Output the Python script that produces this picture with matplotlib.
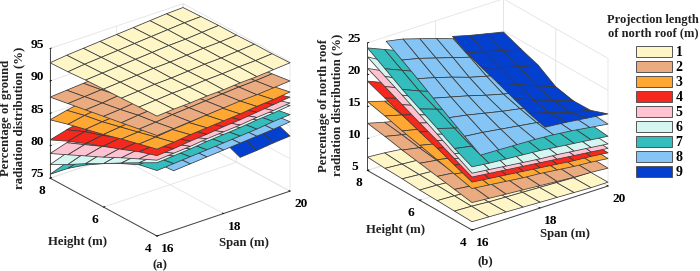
import numpy as np
import matplotlib
matplotlib.use("Agg")
import matplotlib.pyplot as plt
from matplotlib.patches import Patch
from mpl_toolkits.mplot3d import proj3d

plt.rcParams["font.family"] = "Liberation Serif"
plt.rcParams["font.weight"] = "bold"

heights = [4, 4.67, 5.33, 6, 6.67, 7.33, 8]
spans_full = [16, 16.5, 17, 17.5, 18, 18.5, 19, 19.5, 20]
spans_8 = spans_full[1:]
spans_9 = spans_full[5:]
start_8b = [16.25, 16.3, 16.35, 16.4, 16.45, 16.5, 16.55]
start_9b = [18.15, 18.2, 18.25, 18.3, 18.35, 18.4, 18.5]
legend_labels = ["1", "2", "3", "4", "5", "6", "7", "8", "9"]
colors = ["#FFF6C8", "#EBAB80", "#FFA733", "#F5281E", "#FFC2D0",
          "#D5F5F0", "#33BDBD", "#85C5F5", "#0440D0"]

# Panel (a): percentage of ground radiation; rows = heights, columns = spans
a1 = [[93.5,93.7,93.8,94.0,94.1,94.3,94.4,94.6,94.8],
      [93.4,93.6,93.8,93.9,94.1,94.2,94.4,94.5,94.7],
      [93.3,93.5,93.7,93.8,94.0,94.2,94.3,94.5,94.7],
      [93.2,93.4,93.6,93.8,93.9,94.1,94.3,94.4,94.6],
      [93.1,93.3,93.5,93.7,93.9,94.1,94.2,94.4,94.6],
      [92.9,93.2,93.4,93.6,93.8,94.0,94.2,94.4,94.5],
      [92.8,93.1,93.3,93.5,93.7,93.9,94.1,94.3,94.4]]
a2 = [[90.5,90.7,90.9,91.1,91.3,91.5,91.6,91.8,92.0],
      [90.0,90.2,90.5,90.7,90.9,91.1,91.3,91.4,91.6],
      [89.5,89.8,90.0,90.3,90.5,90.7,90.9,91.1,91.3],
      [89.0,89.2,89.5,89.8,90.0,90.3,90.5,90.7,90.9],
      [88.5,88.7,89.0,89.3,89.5,89.8,90.0,90.3,90.5],
      [88.0,88.2,88.4,88.7,89.0,89.3,89.6,89.8,90.0],
      [87.5,87.7,87.9,88.1,88.4,88.7,89.0,89.2,89.5]]
a3 = [[88.4,88.6,88.9,89.1,89.3,89.5,89.8,90.0,90.3],
      [87.7,87.9,88.2,88.4,88.7,88.9,89.2,89.4,89.7],
      [87.0,87.2,87.5,87.7,88.0,88.3,88.5,88.8,89.1],
      [86.2,86.5,86.8,87.0,87.3,87.6,87.9,88.2,88.5],
      [85.5,85.8,86.0,86.3,86.6,86.9,87.2,87.5,87.8],
      [84.8,85.3,85.7,86.0,86.3,86.6,86.8,87.0,87.2],
      [84.0,84.6,85.1,85.5,85.8,86.1,86.3,86.5,86.6]]
a4 = [[87.4,87.6,87.9,88.1,88.4,88.6,88.9,89.2,89.5],
      [86.5,86.7,87.0,87.3,87.5,87.8,88.0,88.3,88.6],
      [85.4,85.7,86.0,86.3,86.6,86.9,87.2,87.5,87.8],
      [84.4,84.8,85.1,85.4,85.7,86.0,86.4,86.7,87.0],
      [83.3,83.7,84.1,84.5,84.8,85.2,85.5,85.9,86.2],
      [82.2,82.8,83.3,83.7,84.1,84.4,84.7,85.0,85.4],
      [80.9,81.6,82.2,82.7,83.1,83.5,83.9,84.2,84.6]]
a5 = [[86.7,86.9,87.1,87.4,87.6,87.8,88.1,88.3,88.6],
      [85.4,85.7,86.0,86.2,86.5,86.8,87.1,87.4,87.7],
      [84.1,84.5,84.8,85.1,85.4,85.8,86.1,86.4,86.7],
      [82.7,83.2,83.6,84.0,84.4,84.7,85.1,85.4,85.8],
      [81.4,82.0,82.5,83.0,83.4,83.8,84.2,84.5,84.9],
      [80.1,80.8,81.4,81.9,82.4,82.8,83.2,83.6,84.0],
      [78.8,79.6,80.3,80.9,81.4,81.9,82.3,82.7,83.1]]
a6 = [[86.3,86.5,86.7,87.0,87.2,87.4,87.7,87.9,88.2],
      [84.8,85.1,85.5,85.8,86.1,86.4,86.7,87.0,87.3],
      [83.3,83.7,84.2,84.6,85.0,85.3,85.6,86.0,86.3],
      [81.7,82.3,82.8,83.3,83.8,84.2,84.6,84.9,85.3],
      [80.2,80.9,81.6,82.2,82.7,83.1,83.5,83.9,84.3],
      [78.6,79.5,80.3,80.9,81.5,82.0,82.5,82.9,83.3],
      [77.1,78.0,78.9,79.7,80.3,80.9,81.4,81.9,82.3]]
a7 = [[85.1,85.3,85.5,85.7,85.9,86.1,86.3,86.6,86.8],
      [84.5,84.8,85.0,85.2,85.4,85.6,85.9,86.1,86.3],
      [83.2,83.6,83.9,84.2,84.5,84.8,85.1,85.4,85.6],
      [81.7,82.2,82.6,83.0,83.4,83.7,84.1,84.4,84.7],
      [80.0,80.6,81.1,81.6,82.0,82.4,82.8,83.2,83.5],
      [78.0,78.7,79.3,79.9,80.4,80.9,81.3,81.7,82.1],
      [75.6,76.5,77.3,78.0,78.6,79.2,79.7,80.2,80.6]]
a8 = [[84.2,84.4,84.6,84.8,85.0,85.2,85.4,85.7],
      [84.0,84.2,84.4,84.6,84.8,85.0,85.2,85.4],
      [83.2,83.5,83.7,84.0,84.2,84.5,84.7,85.0],
      [81.8,82.2,82.5,82.9,83.2,83.5,83.8,84.1],
      [80.3,80.7,81.1,81.5,81.9,82.2,82.6,82.9],
      [78.5,79.0,79.5,80.0,80.4,80.8,81.2,81.6],
      [76.8,77.4,78.0,78.5,79.0,79.5,79.9,80.3]]
a9 = [[82.8,83.0,83.3,83.5],
      [84.0,84.2,84.4,84.6],
      [83.5,83.7,83.9,84.1],
      [82.5,82.8,83.0,83.2],
      [81.2,81.5,81.8,82.0],
      [79.8,80.1,80.4,80.6],
      [78.3,78.6,78.9,79.1]]

# Panel (b): percentage of north roof radiation
b1 = [[6.3,6.2,6.1,6.0,5.9,5.8,5.7,5.6,5.6],
      [6.4,6.3,6.1,6.0,5.9,5.8,5.7,5.6,5.6],
      [6.5,6.4,6.2,6.1,5.9,5.8,5.7,5.6,5.5],
      [6.6,6.5,6.3,6.1,6.0,5.8,5.7,5.6,5.5],
      [6.8,6.6,6.4,6.2,6.0,5.9,5.7,5.6,5.5],
      [6.9,6.7,6.5,6.3,6.1,5.9,5.7,5.6,5.5],
      [7.1,6.9,6.6,6.4,6.2,6.0,5.8,5.6,5.5]]
b2 = [[9.3,9.1,8.9,8.7,8.5,8.3,8.1,8.0,7.8],
      [9.8,9.5,9.2,9.0,8.7,8.5,8.3,8.1,7.9],
      [10.3,10.0,9.6,9.3,9.0,8.7,8.4,8.2,8.0],
      [10.8,10.4,10.0,9.6,9.2,8.9,8.6,8.3,8.1],
      [11.3,10.8,10.4,9.9,9.5,9.1,8.7,8.4,8.2],
      [11.9,11.3,10.8,10.3,9.8,9.3,8.9,8.5,8.3],
      [12.4,11.7,11.1,10.5,10.0,9.5,9.0,8.7,8.4]]
b3 = [[11.5,11.2,10.9,10.6,10.4,10.1,9.8,9.6,9.3],
      [12.2,11.8,11.4,11.1,10.7,10.4,10.1,9.8,9.5],
      [12.9,12.4,12.0,11.5,11.1,10.7,10.3,10.0,9.7],
      [13.6,13.0,12.5,12.0,11.5,11.0,10.6,10.2,9.8],
      [14.3,13.7,13.1,12.5,11.9,11.3,10.8,10.4,10.0],
      [15.1,14.4,13.7,13.0,12.3,11.7,11.1,10.6,10.2],
      [15.8,15.0,14.2,13.4,12.7,12.0,11.4,10.8,10.4]]
b4 = [[12.5,12.2,11.9,11.6,11.3,11.0,10.7,10.5,10.2],
      [13.6,13.1,12.7,12.3,11.9,11.5,11.1,10.8,10.4],
      [14.7,14.1,13.5,13.0,12.4,11.9,11.5,11.0,10.6],
      [15.7,15.0,14.3,13.6,13.0,12.4,11.8,11.3,10.8],
      [16.8,16.0,15.2,14.4,13.6,12.9,12.2,11.6,11.0],
      [17.9,17.0,16.0,15.1,14.2,13.4,12.6,11.9,11.3],
      [19.0,17.9,16.8,15.8,14.8,13.9,13.0,12.2,11.5]]
b5 = [[13.3,13.0,12.7,12.4,12.1,11.8,11.5,11.2,10.9],
      [14.6,14.1,13.6,13.2,12.7,12.3,11.9,11.5,11.1],
      [15.9,15.2,14.6,14.0,13.4,12.8,12.3,11.8,11.3],
      [17.1,16.3,15.5,14.8,14.0,13.3,12.7,12.1,11.5],
      [18.4,17.4,16.5,15.6,14.7,13.9,13.1,12.4,11.8],
      [19.7,18.6,17.5,16.4,15.4,14.4,13.5,12.7,12.0],
      [21.0,19.7,18.4,17.2,16.0,14.9,13.9,13.0,12.3]]
b6 = [[13.9,13.6,13.3,13.0,12.7,12.5,12.2,11.9,11.6],
      [15.4,14.8,14.3,13.9,13.4,13.0,12.6,12.2,11.8],
      [16.9,16.1,15.4,14.8,14.1,13.5,13.0,12.5,12.0],
      [18.4,17.4,16.5,15.7,14.8,14.1,13.4,12.8,12.2],
      [19.9,18.7,17.6,16.6,15.6,14.7,13.9,13.1,12.4],
      [21.3,20.0,18.7,17.5,16.4,15.3,14.3,13.4,12.7],
      [22.8,21.3,19.8,18.4,17.1,15.9,14.8,13.8,13.0]]
b7 = [[14.9,14.6,14.4,14.2,14.0,13.7,13.4,13.1,12.8],
      [16.2,15.7,15.3,14.9,14.6,14.2,13.8,13.4,13.1],
      [17.8,17.0,16.3,15.7,15.2,14.7,14.2,13.7,13.3],
      [19.3,18.4,17.5,16.7,16.0,15.3,14.6,14.0,13.5],
      [20.8,19.7,18.7,17.8,16.9,16.0,15.2,14.4,13.8],
      [22.5,21.4,20.3,19.2,18.2,17.2,16.3,15.3,14.5],
      [24.2,23.1,22.0,20.8,19.6,18.6,17.6,16.5,15.4]]
b8 = [[16.3,16.2,16.1,16.0,15.8,15.5,15.1,14.7],
      [17.6,17.3,16.9,16.5,16.1,15.7,15.3,14.9],
      [18.9,18.4,17.8,17.2,16.7,16.2,15.7,15.2],
      [20.3,19.6,18.9,18.1,17.4,16.8,16.2,15.8],
      [21.7,21.0,20.2,19.3,18.6,18.0,17.4,16.9],
      [23.0,22.4,21.6,20.8,20.0,19.3,18.7,18.2],
      [24.3,23.8,23.0,22.2,21.3,20.6,20.0,19.5]]
b9 = [[17.4,17.1,16.7,16.3],
      [17.9,17.0,16.0,15.3],
      [18.6,17.4,16.3,15.25],
      [19.4,18.2,17.0,15.9],
      [20.1,19.2,18.4,17.7],
      [20.9,20.1,19.4,18.7],
      [21.7,21.0,20.4,19.8]]

panel_a = [a1, a2, a3, a4, a5, a6, a7, a8, a9]
panel_b = [b1, b2, b3, b4, b5, b6, b7, b8, b9]

x_ticks = [16, 18, 20]
y_ticks = [4, 6, 8]
z_ticks_a = [75, 80, 85, 90, 95]
z_ticks_b = [5, 10, 15, 20, 25]

W, H = 700, 271
fig = plt.figure(figsize=(W / 100, H / 100), dpi=100)
FS = 9.2


def span_mesh(table, starts):
    n = len(table[0])
    if starts is not None and n < 9:
        s = np.array(starts[n])
        X = np.array([[a + (20 - a) * j / (n - 1) for j in range(n)] for a in s])
        Y = np.array([[h] * n for h in heights])
        return X, Y
    return np.meshgrid({9: spans_full, 8: spans_8, 4: spans_9}[n], heights)


def make_panel(tables, zlim, zticks, az, el, aspect, order, front_px, right_px, starts=None):
    ax = fig.add_axes([0.05, 0.1, 0.4, 0.8], projection="3d", computed_zorder=False)
    ax.set_proj_type("ortho")
    ax.view_init(elev=el, azim=az)
    ax.set_xlim(16, 20)
    ax.set_ylim(4, 8)
    ax.set_zlim(*zlim)
    ax.set_box_aspect(aspect)
    ax.patch.set_alpha(0)
    for i in order:
        X, Y = span_mesh(tables[i], starts)
        s = ax.plot_surface(X, Y, np.array(tables[i]), color=colors[i], shade=False,
                            rstride=1, cstride=1, edgecolor="#3a3a3a", linewidth=0.55,
                            zorder=10 + list(order).index(i))
        s.set_clip_on(False)
    ax.set_xticks(x_ticks)
    ax.set_yticks(y_ticks)
    ax.set_zticks(zticks)
    for axis in (ax.xaxis, ax.yaxis, ax.zaxis):
        axis.set_pane_color((1, 1, 1, 0))
        axis.pane.set_edgecolor("#dcdcdc")
        axis.pane.set_linewidth(0.6)
        axis.line.set_color("#444444")
        axis.line.set_linewidth(0.7)
        axis._axinfo["grid"].update(color="#e4e4e4", linewidth=0.6)
        axis._axinfo["tick"].update(color="#444444", linewidth={True: 0.6, False: 0.6},
                                    inward_factor=0.0, outward_factor=0.12)
    ax.zaxis.set_ticks_position("upper")
    ax.tick_params(axis="x", labelsize=9.6, pad=-4)
    ax.tick_params(axis="y", labelsize=9.6, pad=-4)
    ax.tick_params(axis="z", labelsize=9.6, pad=-2.5)
    for t in ax.xaxis.get_major_ticks():
        t.label1.set_horizontalalignment("left")
    for t in ax.yaxis.get_major_ticks():
        t.label1.set_horizontalalignment("right")
    for t in ax.zaxis.get_major_ticks():
        t.label1.set_verticalalignment("baseline")
    # scale and move the axes so that the span axis lands where it belongs
    for _ in range(3):
        fig.canvas.draw()
        M = ax.get_proj()
        pts = []
        for x, y, z in ((16, 4, zlim[0]), (20, 4, zlim[0])):
            xx, yy, _z = proj3d.proj_transform(x, y, z, M)
            pts.append(ax.transData.transform((xx, yy)))
        cur = pts[1][0] - pts[0][0]
        k = (right_px[0] - front_px[0]) / cur
        p = ax.get_position()
        w, h = p.width * k, p.height * k
        ax.set_position([p.x0, p.y0, w, h])
        fig.canvas.draw()
        M = ax.get_proj()
        xx, yy, _z = proj3d.proj_transform(16, 4, zlim[0], M)
        d = ax.transData.transform((xx, yy))
        dx = (front_px[0] - d[0]) / W
        dy = ((H - front_px[1]) - d[1]) / H
        p = ax.get_position()
        ax.set_position([p.x0 + dx, p.y0 + dy, p.width, p.height])
    return ax


ax_a = make_panel(panel_a, (75, 95), z_ticks_a, -128.3, 25.3, (1, 1.018, 0.846),
                  list(range(8, -1, -1)), (157, 236), (290, 191))
ax_b = make_panel(panel_b, (5, 25), z_ticks_b, -127, 25.4, (1, 1.02, 0.83),
                  list(range(9)), (472, 230), (608, 186),
                  starts={8: start_8b, 4: start_9b})


def label(px, py, s, size=FS, **kw):
    fig.text(px / W, 1 - py / H, s, ha="center", va="center", fontsize=size,
             fontweight="bold", color="#222222", **kw)


label(13, 118, "Percentage of ground\nradiation distribution (%)", rotation=90, linespacing=1.15)
label(78, 242, "Height (m)")
label(244, 243, "Span (m)")
label(160, 265, "(a)")
label(331, 105, "Percentage of north roof\nradiation distribution (%)", rotation=90, linespacing=1.15)
label(396, 230, "Height (m)")
label(565, 234, "Span (m)")
label(485, 261, "(b)")
label(653, 27, "Projection length\nof north roof (m)", size=9, linespacing=1.15)

handles = [Patch(facecolor=c, edgecolor="#555555", linewidth=0.7) for c in colors]
leg = fig.legend(handles, legend_labels, loc="upper left",
                 bbox_to_anchor=(636 / W, 1 - 46 / H), frameon=False, borderaxespad=0,
                 prop={"family": "Liberation Serif", "weight": "bold", "size": 10},
                 handlelength=2.6, handleheight=0.85, labelspacing=0.12,
                 handletextpad=0.25, borderpad=0)

fig.savefig("out.png", dpi=100)
